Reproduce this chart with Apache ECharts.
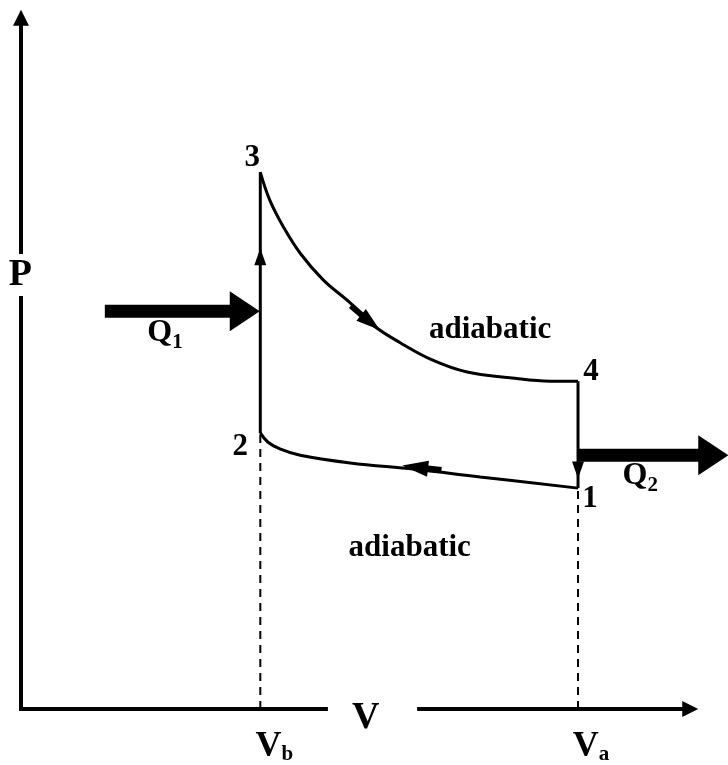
<!DOCTYPE html>
<html lang="en">
<head>
<meta charset="UTF-8">
<title>Otto cycle P-V</title>
<script src="https://cdn.jsdelivr.net/npm/echarts@6/dist/echarts.min.js"></script>
<style>html,body{margin:0;padding:0;background:#fff}</style>
</head>
<body>
<div id="main" style="width:728px;height:765px;"></div>
<script>
  // state points 1..4 (V, P in arbitrary units)
  var stateNames = ['1', '2', '3', '4'];
  var stateV = [8.24, 3.54, 3.54, 8.24];
  var stateP = [3.16, 3.95, 7.68, 4.69];

  // adiabatic 3 -> 4
  var expansion = [[3.54, 7.68], [3.68, 7.28], [3.88, 6.90], [4.13, 6.52], [4.47, 6.14], [4.87, 5.81],
    [5.21, 5.49], [5.61, 5.24], [6.09, 4.99], [6.60, 4.82], [7.23, 4.74], [7.83, 4.69], [8.24, 4.69]];
  // adiabatic 1 -> 2
  var compression = [[8.24, 3.16], [6.79, 3.32], [5.83, 3.43], [4.87, 3.52], [4.13, 3.63],
    [3.83, 3.72], [3.65, 3.82], [3.54, 3.95]];

  // heat arrows
  var q1Bar = [[1.24, 5.69], [3.2, 5.69]];
  var q2Bar = [[8.24, 3.63], [10.1, 3.63]];

  // axes
  var yAxisLine = [[0, 0], [0, 9.85]];
  var xAxisLeft = [[-0.1, 0], [4.54, 0]];
  var xAxisRight = [[5.86, 0], [9.9, 0]];

  // arrow heads: [V, P] and [rotate, width, height]
  var headPos = [[0, 9.89], [9.9, 0], [3.31, 5.69], [10.24, 3.63], [3.54, 6.47], [8.24, 3.42], [5.17, 5.53], [5.83, 3.46]];
  var headStyle = [[0, 16, 16], [-90, 16, 16], [-90, 40, 30], [-90, 40, 30], [0, 12, 17], [180, 12, 17], [-129, 15, 24], [83, 16, 26]];
  var tails = [[[4.88, 5.77], [5.12, 5.57]], [[6.22, 3.42], [5.92, 3.45]]];

  var texts = [
    {text: '{big|P}', at: [-0.01, 6.21], bg: true},
    {text: '{big|V}', at: [5.10, -0.13]},
    {text: '{q|Q}{s|1}', at: [2.13, 5.38]},
    {text: '{q|Q}{s|2}', at: [9.16, 3.33]},
    {text: '{n|adiabatic}', at: [6.94, 5.42]},
    {text: '{n|adiabatic}', at: [5.75, 2.30]}
  ];
  var stateOffsets = [[12, 11], [-20, 14], [-8, -14], [13, -9]];

  var font = 'Liberation Serif';
  var rich = {
    big: {fontSize: 38, fontWeight: 'bold', fontFamily: font, color: '#000', verticalAlign: 'top', lineHeight: 38},
    v: {fontSize: 36, fontWeight: 'bold', fontFamily: font, color: '#000', verticalAlign: 'top', lineHeight: 36},
    q: {fontSize: 32, fontWeight: 'bold', fontFamily: font, color: '#000', verticalAlign: 'top', lineHeight: 32},
    s: {fontSize: 21, fontWeight: 'bold', fontFamily: font, color: '#000', verticalAlign: 'top', lineHeight: 21, padding: [15, 0, 0, 0]},
    n: {fontSize: 31, fontWeight: 'bold', fontFamily: font, color: '#000'}
  };

  function seg(data, width, dash) {
    return {
      type: 'line', data: data, symbol: 'none', silent: true, z: 2, clip: false,
      lineStyle: {color: '#000', width: width, type: dash || 'solid', cap: 'butt', opacity: 1}
    };
  }

  var textData = texts.map(function (t) {
    return {
      value: t.at,
      label: {
        formatter: t.text,
        backgroundColor: t.bg ? '#fff' : 'transparent',
        padding: t.bg ? [2, 2] : 0
      }
    };
  });
  stateNames.forEach(function (n, i) {
    textData.push({value: [stateV[i], stateP[i]], label: {formatter: '{n|' + n + '}', offset: stateOffsets[i]}});
  });
  textData.push({value: [stateV[1], 0], label: {formatter: '{v|V}{s|b}', offset: [14, 38]}});
  textData.push({value: [stateV[0], 0], label: {formatter: '{v|V}{s|a}', offset: [13, 38]}});

  var series = [
    seg(yAxisLine, 4), seg(xAxisLeft, 4), seg(xAxisRight, 4),
    seg([[stateV[1], 0], [stateV[1], stateP[1]]], 2, [8, 6]),
    seg([[stateV[0], 0], [stateV[0], stateP[0]]], 2, [8, 6]),
    seg([[stateV[1], stateP[1]], [stateV[2], stateP[2]]], 3),
    seg([[stateV[3], stateP[3]], [stateV[0], stateP[0]]], 3),
    Object.assign(seg(expansion, 3), {smooth: 0.4}),
    Object.assign(seg(compression, 3), {smooth: 0.4}),
    seg(q1Bar, 13), seg(q2Bar, 13),
    seg(tails[0], 6), seg(tails[1], 6),
    {
      type: 'scatter', silent: true, z: 3, clip: false,
      itemStyle: {color: '#000', opacity: 1},
      data: headPos.map(function (p, i) {
        return {value: p, symbol: 'triangle', symbolRotate: headStyle[i][0], symbolSize: [headStyle[i][1], headStyle[i][2]]};
      })
    },
    {
      type: 'scatter', silent: true, z: 5, clip: false,
      symbolSize: 1, itemStyle: {color: 'rgba(0,0,0,0)', opacity: 1},
      label: {show: true, position: 'inside', color: '#000', textBorderWidth: 0, rich: rich},
      data: textData
    }
  ];

  var chart = echarts.init(document.getElementById('main'));
  chart.setOption({
    animation: false,
    backgroundColor: '#fff',
    grid: {left: 21, right: 31, top: 10, bottom: 56},
    xAxis: {type: 'value', min: 0, max: 10, show: false},
    yAxis: {type: 'value', min: 0, max: 10, show: false},
    series: series
  });
</script>
</body>
</html>
